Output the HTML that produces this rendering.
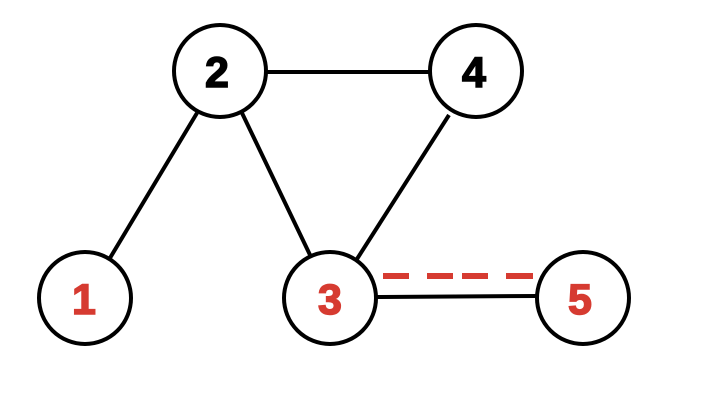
<!DOCTYPE html>
<html><head><meta charset="utf-8"><style>html,body{margin:0;padding:0;background:#fff;}svg{display:block}</style></head>
<body>
<svg width="708" height="412" viewBox="0 0 708 412" xmlns="http://www.w3.org/2000/svg">
<g stroke="#000" stroke-width="4" fill="none">
<line x1="267" y1="72" x2="429" y2="72"/>
<line x1="197" y1="113" x2="110" y2="258"/>
<line x1="242" y1="113" x2="311" y2="257"/>
<line x1="449" y1="115" x2="357" y2="259"/>
<line x1="377" y1="297" x2="537" y2="296"/>
<circle cx="220" cy="71" r="46" fill="#fff"/>
<circle cx="476" cy="71" r="46" fill="#fff"/>
<circle cx="85" cy="298" r="46" fill="#fff"/>
<circle cx="330" cy="298" r="46" fill="#fff"/>
<circle cx="583" cy="298" r="46" fill="#fff"/>
</g>
<g fill="#d63b31">
<rect x="383" y="273" width="26" height="6"/>
<rect x="427" y="273" width="26" height="6"/>
<rect x="462" y="273" width="26" height="6"/>
<rect x="506" y="273" width="27" height="6"/>
</g>
<g font-family="'Liberation Sans', sans-serif" font-weight="bold" font-size="43" text-anchor="middle" stroke-width="1.5">
<text x="217" y="87" fill="#000" stroke="#000">2</text>
<text x="474" y="87" fill="#000" stroke="#000">4</text>
<text x="84" y="314" fill="#d63b31" stroke="#d63b31">1</text>
<text x="330" y="314" fill="#d63b31" stroke="#d63b31">3</text>
<text x="580" y="314" fill="#d63b31" stroke="#d63b31">5</text>
</g>
</svg>
</body></html>
